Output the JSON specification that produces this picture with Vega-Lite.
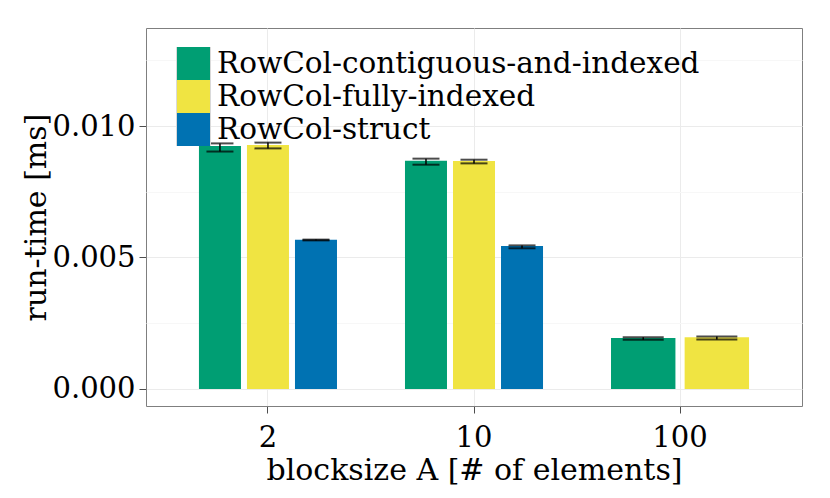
{
  "$schema": "https://vega.github.io/schema/vega-lite/v6.json",
  "width": 656,
  "height": 378,
  "autosize": {"type": "none"},
  "padding": {"left": 146, "top": 28, "right": 28, "bottom": 92},
  "data": {
    "values": [
      {"block": "2", "impl": "RowCol-contiguous-and-indexed", "mean": 0.00924, "lo": 0.00903, "hi": 0.00934},
      {"block": "2", "impl": "RowCol-fully-indexed", "mean": 0.00928, "lo": 0.00915, "hi": 0.00937},
      {"block": "2", "impl": "RowCol-struct", "mean": 0.00567, "lo": 0.00565, "hi": 0.00568},
      {"block": "10", "impl": "RowCol-contiguous-and-indexed", "mean": 0.00868, "lo": 0.00853, "hi": 0.00876},
      {"block": "10", "impl": "RowCol-fully-indexed", "mean": 0.00867, "lo": 0.00858, "hi": 0.00872},
      {"block": "10", "impl": "RowCol-struct", "mean": 0.00544, "lo": 0.00535, "hi": 0.00546},
      {"block": "100", "impl": "RowCol-contiguous-and-indexed", "mean": 0.00194, "lo": 0.00187, "hi": 0.00197},
      {"block": "100", "impl": "RowCol-fully-indexed", "mean": 0.00197, "lo": 0.00188, "hi": 0.00199}
    ]
  },
  "encoding": {
    "x": {
      "field": "block",
      "type": "nominal",
      "sort": ["2", "10", "100"],
      "scale": {"domain": ["2", "10", "100"], "paddingInner": 0.33, "paddingOuter": 0.257},
      "axis": {"title": "blocksize A [# of elements]", "labelAngle": 0}
    }
  },
  "layer": [
    {
      "transform": [{"filter": "datum.block != '100'"}],
      "encoding": {
        "xOffset": {"field": "impl", "type": "nominal", "scale": {"paddingInner": 0.125, "paddingOuter": 0}}
      },
      "layer": [
        {
          "mark": {"type": "bar"},
          "encoding": {
            "y": {
              "field": "mean",
              "type": "quantitative",
              "scale": {"domain": [-0.00065, 0.01373], "nice": false, "zero": false},
              "axis": {
                "title": "run-time [ms]",
                "values": [0, 0.0025, 0.005, 0.0075, 0.01, 0.0125],
                "format": ".3f",
                "labelExpr": "round(datum.value * 400) % 2 == 0 ? datum.label : ''",
                "tickOpacity": {"condition": {"test": "round(datum.value * 400) % 2 == 0", "value": 1}, "value": 0},
                "gridColor": {"condition": {"test": "round(datum.value * 400) % 2 == 0", "value": "#ebebeb"}, "value": "#f7f7f7"}
              }
            },
            "y2": {"datum": 0},
            "color": {
              "field": "impl",
              "type": "nominal",
              "scale": {
                "domain": ["RowCol-contiguous-and-indexed", "RowCol-fully-indexed", "RowCol-struct"],
                "range": ["#009E73", "#F0E442", "#0072B2"]
              },
              "legend": {"title": null}
            }
          }
        },
        {
          "mark": {"type": "rule", "color": "black", "strokeWidth": 1.5},
          "encoding": {"y": {"field": "lo", "type": "quantitative"}, "y2": {"field": "hi"}}
        },
        {
          "mark": {"type": "tick", "color": "black", "thickness": 2, "size": 27},
          "encoding": {"y": {"field": "lo", "type": "quantitative"}}
        },
        {
          "mark": {"type": "tick", "color": "black", "thickness": 2, "size": 27},
          "encoding": {"y": {"field": "hi", "type": "quantitative"}}
        }
      ]
    },
    {
      "transform": [{"filter": "datum.block == '100'"}],
      "encoding": {
        "xOffset": {"field": "impl", "type": "nominal", "scale": {"paddingInner": 0.125, "paddingOuter": 0}}
      },
      "layer": [
        {
          "mark": {"type": "bar"},
          "encoding": {
            "y": {"field": "mean", "type": "quantitative"},
            "y2": {"datum": 0},
            "color": {"field": "impl", "type": "nominal"}
          }
        },
        {
          "mark": {"type": "rule", "color": "black", "strokeWidth": 1.5},
          "encoding": {"y": {"field": "lo", "type": "quantitative"}, "y2": {"field": "hi"}}
        },
        {
          "mark": {"type": "tick", "color": "black", "thickness": 2, "size": 41},
          "encoding": {"y": {"field": "lo", "type": "quantitative"}}
        },
        {
          "mark": {"type": "tick", "color": "black", "thickness": 2, "size": 41},
          "encoding": {"y": {"field": "hi", "type": "quantitative"}}
        }
      ]
    }
  ],
  "resolve": {"scale": {"xOffset": "independent"}},
  "config": {
    "font": "DejaVu Serif",
    "view": {"stroke": "#7f7f7f", "strokeWidth": 1},
    "axis": {
      "domain": false,
      "grid": true,
      "gridColor": "#ebebeb",
      "gridWidth": 1,
      "tickColor": "#4d4d4d",
      "tickSize": 7,
      "tickWidth": 1,
      "labelFont": "DejaVu Serif",
      "labelFontSize": 29,
      "labelColor": "black",
      "labelPadding": 4,
      "titleFont": "DejaVu Serif",
      "titleFontSize": 30,
      "titleFontWeight": "normal",
      "titleColor": "black"
    },
    "axisX": {"titlePadding": 3, "labelPadding": 10},
    "axisY": {"titlePadding": 0},
    "legend": {
      "orient": "none",
      "legendX": 30,
      "legendY": 19,
      "padding": 0,
      "symbolType": "square",
      "symbolSize": 1156,
      "symbolOpacity": 1,
      "symbolStrokeColor": "#d9d9d9",
      "symbolStrokeWidth": 1,
      "labelFont": "DejaVu Serif",
      "labelFontSize": 29.5,
      "labelColor": "black",
      "labelOffset": 6,
      "rowPadding": 0,
      "clipHeight": 33,
      "labelLimit": 700
    }
  }
}
